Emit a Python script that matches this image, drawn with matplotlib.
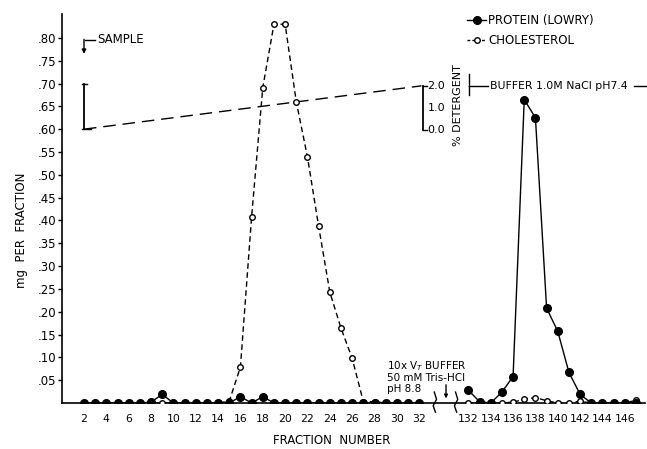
import numpy as np
import matplotlib
matplotlib.use("Agg")
from matplotlib import pyplot as plt

plt.rcParams['font.family'] = ['DejaVu Sans']

# fractions before and after the axis break
frac_left = list(range(2, 33))
frac_right = list(range(132, 148))

protein_left = [0, 0, 0, 0, 0, 0, 0.002, 0.019, 0, 0, 0, 0, 0, 0, 0.014, 0,
                0.014, 0, 0, 0, 0, 0, 0, 0, 0, 0, 0, 0, 0, 0, 0]
chol_left = [0, 0, 0, 0, 0, 0, 0, 0, 0, 0, 0, 0, 0, 0.004, 0.079, 0.408,
             0.691, 0.83, 0.83, 0.66, 0.539, 0.387, 0.243, 0.164, 0.098, 0.003,
             0.003, 0, 0, 0, 0]

protein_right = [0.028, 0.003, 0, 0.024, 0.058, 0.665, 0.625, 0.208, 0.157,
                 0.067, 0.019, 0, 0, 0, 0, 0]
chol_right = [0, 0, 0, 0, 0.002, 0.008, 0.012, 0.005, 0, 0, 0.004, 0, 0, 0,
              0, 0.006]

xtick_fracs = list(range(2, 33, 2)) + list(range(132, 147, 2))
ytick_vals = [0.05, 0.10, 0.15, 0.20, 0.25, 0.30, 0.35, 0.40, 0.45, 0.50,
              0.55, 0.60, 0.65, 0.70, 0.75, 0.80]

# detergent gradient (plotted on the mg scale, 0.0-2.0 % -> .60-.70)
grad_frac = [2, 32.2]
grad_val = [0.60, 0.695]

BREAK_SHIFT = 95.6


def xpos(f):
    # fractions after the break are pulled left to close the gap
    f = np.asarray(f, dtype=float)
    return np.where(f > 100, f - BREAK_SHIFT, f)


fig = plt.figure(figsize=(6.47, 4.49), dpi=100)
ax = fig.add_axes([0.0958, 0.1024, 0.901, 0.866])

for fr, pr, ch in [(frac_left, protein_left, chol_left),
                   (frac_right, protein_right, chol_right)]:
    ax.plot(xpos(fr), ch, color='black', lw=1.0, ls=(0, (4, 2.5)),
            marker='o', ms=4, mfc='white', mec='black', mew=1.0, zorder=3)
    ax.plot(xpos(fr), pr, color='black', lw=1.0, ls='-',
            marker='o', ms=5.5, mfc='black', mec='black', zorder=4)

ax.set_xlim(0.03, 52.2)
ax.set_ylim(0, 0.852)
ax.spines['top'].set_visible(False)
ax.spines['right'].set_visible(False)
ax.spines['left'].set_linewidth(1.2)
ax.spines['bottom'].set_linewidth(1.2)

ax.set_xticks(xpos(xtick_fracs))
ax.set_xticklabels([str(f) for f in xtick_fracs], fontsize=7.8)
ax.tick_params(axis='x', length=0, pad=8)
ax.set_yticks(ytick_vals)
ax.set_yticklabels(['.%02d' % round(v * 100) for v in ytick_vals], fontsize=8.5)
ax.tick_params(axis='y', direction='out', length=3, width=1, pad=1)

fig.text(332 / 647, 1 - 440 / 449, 'FRACTION  NUMBER', ha='center',
         va='center', fontsize=8.5)
fig.text(22 / 647, 1 - 230 / 449, 'mg  PER  FRACTION', ha='center',
         va='center', rotation=90, fontsize=8.5)

# detergent gradient line and brackets
ax.plot(grad_frac, grad_val, color='black', lw=1.0, ls=(0, (9, 5)))
ax.plot([2, 2], [0.60, 0.70], color='black', lw=1.3)
ax.plot([1.8, 2.25], [0.70, 0.70], color='black', lw=1.0)
ax.plot([1.8, 2.6], [0.60, 0.60], color='black', lw=1.0)
rx = 32.3
ax.plot([rx, rx], [0.599, 0.695], color='black', lw=1.3)
ax.plot([rx, rx + 0.4], [0.695, 0.695], color='black', lw=1.0)
ax.plot([rx, rx + 0.4], [0.599, 0.599], color='black', lw=1.0)
for lab, v in [('2.0', 0.695), ('1.0', 0.647), ('0.0', 0.599)]:
    ax.text(rx + 0.45, v, lab, ha='left', va='center', fontsize=8)
ax.text(35.5, 0.652, '% DETERGENT', rotation=90, ha='center', va='center',
        fontsize=8)

# buffer change marker
ax.plot([36.5, 36.5], [0.674, 0.722], color='black', lw=1.0)
ax.plot([36.5, 38.2], [0.694, 0.694], color='black', lw=1.0)
ax.text(38.35, 0.694, 'BUFFER 1.0M NaCl pH7.4', ha='left', va='center',
        fontsize=7.8)
ax.plot([51.2, 52.4], [0.694, 0.694], color='black', lw=1.0, clip_on=False)

# sample arrow
ax.plot([2.05, 3.0], [0.795, 0.795], color='black', lw=1.0)
ax.annotate('', xy=(2.0, 0.765), xytext=(2.0, 0.797),
            arrowprops=dict(arrowstyle='-|>', color='black', lw=1.0,
                            mutation_scale=6, shrinkA=0, shrinkB=0))
ax.text(3.15, 0.797, 'SAMPLE', ha='left', va='center', fontsize=8.5)

# elution buffer note
ax.text(29.1, 0.058, '10x V$_T$ BUFFER\n50 mM Tris-HCl\npH 8.8', ha='left',
        va='center', fontsize=7.5, linespacing=1.05)
ax.annotate('', xy=(34.4, 0.010), xytext=(34.4, 0.040),
            arrowprops=dict(arrowstyle='-|>', color='black', lw=1.0,
                            mutation_scale=5, shrinkA=0, shrinkB=0))

# axis break marks
for bp in [33.4, 35.3]:
    ax.plot([bp - 0.05, bp + 0.15, bp - 0.15, bp + 0.05],
            [0.024, 0.008, -0.006, -0.02], color='black', lw=1.0,
            clip_on=False, zorder=5)

# legend
h1, = ax.plot([], [], color='black', lw=1.0, marker='o', ms=5.5, mfc='black')
h2, = ax.plot([], [], color='black', lw=1.0, ls=(0, (2, 1.5)), marker='o',
              ms=4, mfc='white', mec='black')
ax.legend([h1, h2], ['PROTEIN (LOWRY)', 'CHOLESTEROL'], loc='upper left',
          bbox_to_anchor=(0.695, 1.0), frameon=False, fontsize=8.5,
          handlelength=1.6, handletextpad=0.2, borderpad=0, borderaxespad=0,
          labelspacing=0.6)

fig.savefig('out.png', dpi=100)
